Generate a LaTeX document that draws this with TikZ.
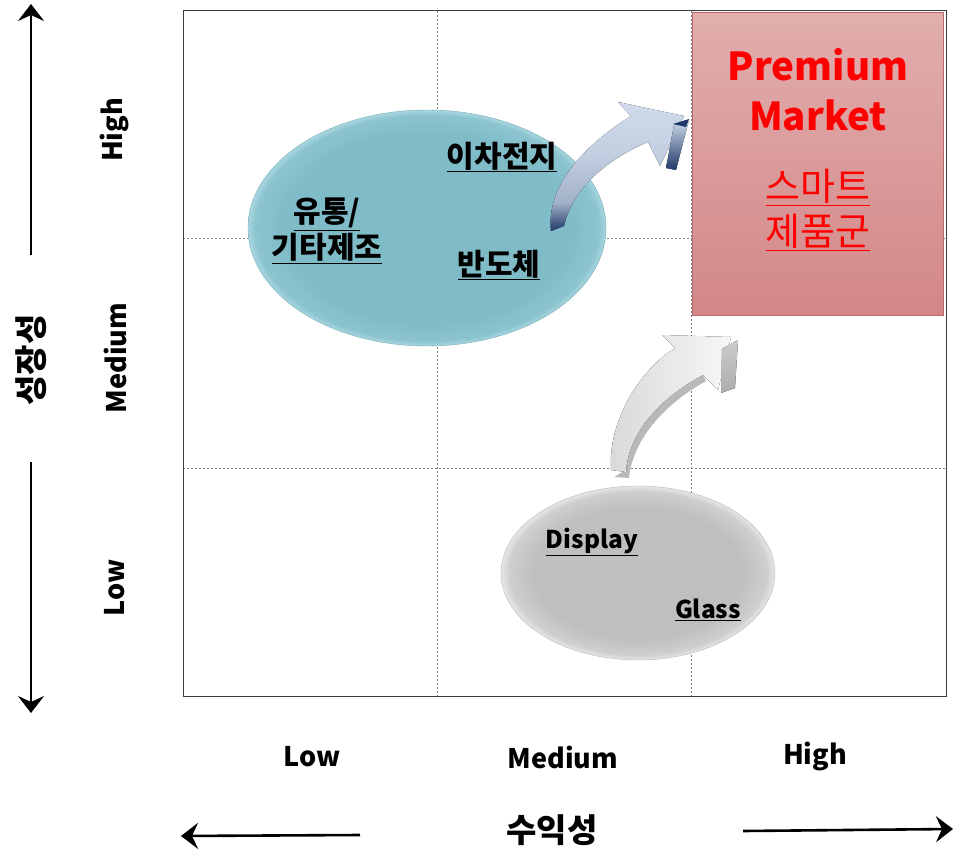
\documentclass[tikz,border=0pt]{standalone}
\usepackage{fontspec}
\setmainfont{Noto Sans CJK KR}
\usetikzlibrary{arrows.meta,shapes.geometric}
\definecolor{framecol}{HTML}{3A3A3A}
\definecolor{gridcol}{HTML}{808080}
\definecolor{premtop}{HTML}{E2AEAE}
\definecolor{prembot}{HTML}{D38787}
\definecolor{premline}{HTML}{B86A6A}
\definecolor{tealin}{HTML}{7FBCC8}
\definecolor{tealrim}{HTML}{A9D7E0}
\definecolor{tealline}{HTML}{6FA9B5}
\definecolor{grayin}{HTML}{BFBFBF}
\definecolor{grayrim}{HTML}{E6E6E6}
\definecolor{navy}{HTML}{1F3868}
\definecolor{paleblue}{HTML}{D0DCEC}
\definecolor{midblue}{HTML}{A3B1C8}
% flat body with a bright bevelled rim
\pgfdeclareradialshading{tealgloss}{\pgfpoint{0bp}{0bp}}{%
  color(0bp)=(tealin); color(20bp)=(tealin); color(24bp)=(tealin!70!tealrim);
  color(25bp)=(tealrim); color(50bp)=(tealrim)}
\pgfdeclareradialshading{graygloss}{\pgfpoint{0bp}{0bp}}{%
  color(0bp)=(grayin); color(19bp)=(grayin); color(23.5bp)=(grayin!60!grayrim);
  color(25bp)=(grayrim); color(50bp)=(grayrim)}
% pale head fading into a dark tail
\pgfdeclareverticalshading{arrowblue}{100bp}{%
  color(0bp)=(navy); color(25bp)=(navy); color(36bp)=(midblue);
  color(55bp)=(paleblue!70!midblue); color(75bp)=(paleblue); color(100bp)=(paleblue)}
\tikzset{
  axisarrow/.style={line width=2.6pt,-{Stealth[length=17pt,width=26pt,inset=6pt]}},
  gridline/.style={gridcol,line width=0.9pt,dash pattern=on 2pt off 2pt},
  lvl/.style={font=\fontsize{27}{30}\selectfont\bfseries,inner sep=0pt},
  axisname/.style={font=\fontsize{33}{35}\selectfont\bfseries,inner sep=0pt},
  itemkr/.style={font=\fontsize{30}{36}\selectfont\bfseries,inner sep=0pt,align=center},
  itemen/.style={font=\fontsize{24.5}{30}\selectfont\bfseries,inner sep=0pt},
  premtitle/.style={font=\fontsize{38.5}{50}\selectfont\bfseries,text=red,align=center,inner sep=0pt},
  premsub/.style={font=\fontsize{38}{45}\selectfont,text=red,align=center,inner sep=0pt},
}
\begin{document}
\begin{tikzpicture}[x=1pt,y=-1pt]
\useasboundingbox (0,0) rectangle (954,850);

% quadrant frame and dashed grid
\coordinate (fNW) at (183,11);
\coordinate (fSE) at (946,696);
\draw[gridline] (437,11) -- (437,696);
\draw[gridline] (691,11) -- (691,696);
\draw[gridline] (183,238) -- (946,238);
\draw[gridline] (183,468) -- (946,468);

% premium market block
\node[draw=premline,line width=0.8pt,top color=premtop,bottom color=prembot,
      minimum width=251pt,minimum height=303pt,anchor=north west,inner sep=0pt]
      (prem) at (692,12) {};
\node[premtitle] (premT) at (818,90) {Premium\\Market};
\node[premsub] (premS) at (818,210) {\underline{스마트}\\\underline{제품군}};

\draw[framecol,line width=1pt] (fNW) rectangle (fSE);

% growth cluster
\node[ellipse,draw=tealline,line width=0.4pt,shading=tealgloss,
      minimum width=358pt,minimum height=236pt,inner sep=0pt] (blueE) at (427,228) {};
\node[itemkr] (b1) at (502,157) {\underline{이차전지}};
\node[itemkr] (b2) at (327,231) {\underline{유통/}\\\underline{기타제조}};
\node[itemkr] (b3) at (499,265) {\underline{반도체}};

% display cluster
\node[ellipse,draw=gray!55,line width=0.4pt,shading=graygloss,
      minimum width=274pt,minimum height=174pt,inner sep=0pt] (grayE) at (638,573) {};
\node[itemen] (g1) at (592,542) {\underline{Display}};
\node[itemen] (g2) at (708,610) {\underline{Glass}};

% curved arrow from the growth cluster
\fill[shading=arrowblue]
  (551,231) .. controls (546,185) and (585,145) .. (631,116)
  -- (618,102) -- (684,116) -- (660,166) -- (648,142)
  .. controls (605,160) and (572,190) .. (564,226) -- cycle;
\fill[top color=paleblue,bottom color=navy]
  (674,125) -- (689,120) -- (676,170) -- (666,168) -- cycle;
\fill[navy] (673,124) -- (689,119) -- (686,127) -- cycle;

% curved arrow from the display cluster
\fill[gray!55]
  (626,470) .. controls (628,430) and (665,395) .. (703,375)
  -- (706,381) .. controls (668,402) and (633,437) .. (629,478) -- (614,477) -- cycle;
\fill[left color=gray!30,right color=gray!6]
  (611,470) .. controls (608,420) and (640,370) .. (675,348)
  -- (662,335) -- (731,337) -- (718,390) -- (703,375)
  .. controls (665,395) and (628,430) .. (626,472) -- cycle;
\fill[top color=gray!40,bottom color=gray!65]
  (722,349) -- (738,340) -- (735,388) -- (721,393) -- cycle;

% vertical axis
\coordinate (vTop) at (31,4);
\coordinate (vA) at (31,255);
\coordinate (vB) at (31,462);
\coordinate (vBot) at (31,713);
\draw[axisarrow] (vA) -- (vTop);
\draw[axisarrow] (vB) -- (vBot);
\node[axisname,rotate=90] (vName) at (31,360) {성장성};
\node[lvl,rotate=90] (vHigh) at (115,130) {High};
\node[lvl,rotate=90] (vMed) at (115,358) {Medium};
\node[lvl,rotate=90] (vLow) at (115,588) {Low};

% horizontal axis
\coordinate (hA) at (360,835);
\coordinate (hLeft) at (181,836);
\coordinate (hB) at (743,831);
\coordinate (hRight) at (953,829);
\draw[axisarrow] (hA) -- (hLeft);
\draw[axisarrow] (hB) -- (hRight);
\node[axisname] (hName) at (552,830) {수익성};
\node[lvl] (hLow) at (312,757) {Low};
\node[lvl] (hMed) at (563,757) {Medium};
\node[lvl] (hHigh) at (815,757) {High};
\end{tikzpicture}
\end{document}
